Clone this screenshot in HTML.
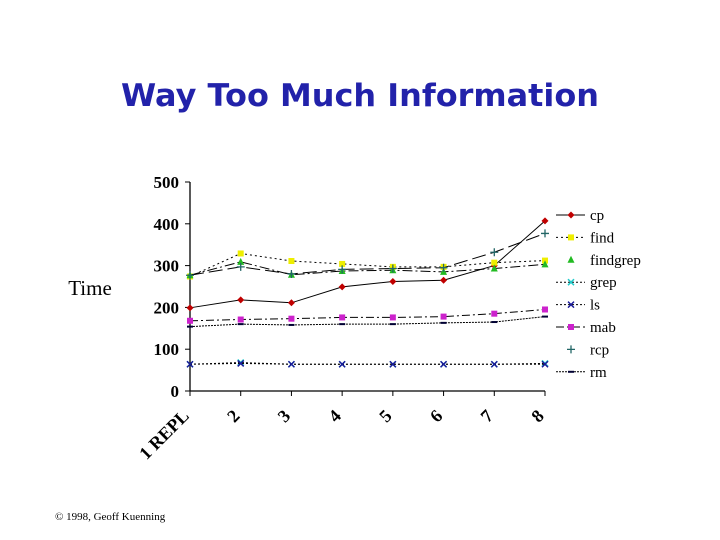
<!DOCTYPE html>
<html><head><meta charset="utf-8"><style>
body{margin:0;background:#fff;width:720px;height:540px;overflow:hidden}
svg{display:block}
text{font-family:"Liberation Serif",serif}
</style></head><body>
<svg id="chart" width="720" height="540">
<text x="360" y="106" text-anchor="middle" font-size="31" font-weight="bold" fill="#2222aa" style="font-family:'DejaVu Sans',sans-serif" textLength="478" lengthAdjust="spacingAndGlyphs">Way Too Much Information</text>
<text x="90" y="295" text-anchor="middle" font-size="21">Time</text>
<text x="55" y="520" font-size="11">© 1998, Geoff Kuenning</text>
<g id="axes"></g><g id="series"></g><g id="legend"></g>
</svg>
<script>
const categories=["1 REPL","2","3","4","5","6","7","8"];
const yTicks=[0,100,200,300,400,500];
const seriesNames=["cp","find","findgrep","grep","ls","mab","rcp","rm"];
const cp=[199,218,211,249,262,265,300,407];
const find=[274,329,311,304,297,297,307,312];
const findgrep=[277,309,278,287,289,285,293,303];
const grep=[64,68,64,64,64,64,64,66];
const ls=[64,66,64,64,64,64,64,64];
const mab=[168,171,173,176,176,178,185,195];
const rcp=[277,297,280,291,293,295,332,377];
const rm=[154,160,158,160,160,163,165,178];
const NS="http://www.w3.org/2000/svg";
const x0=190,x1=545,yb=391,yt=182;
const xs=i=>x0+i*(x1-x0)/(categories.length-1);
const ys=v=>yb-(v/500)*(yb-yt);
function mk(t,a,p){const e=document.createElementNS(NS,t);for(const k in a)e.setAttribute(k,a[k]);p.appendChild(e);return e;}
const axes=document.getElementById('axes');
let l=mk('line',{x1:x0,y1:yt,x2:x0,y2:yb,stroke:'#000','stroke-width':1.3},axes);


l=mk('line',{x1:x0,y1:yb,x2:x1,y2:yb,stroke:'#000','stroke-width':1.3},axes);


yTicks.forEach(v=>{mk('line',{x1:x0-5,y1:ys(v),x2:x0,y2:ys(v),stroke:'#000'},axes);
 const t=mk('text',{x:x0-11,y:ys(v)+6,'text-anchor':'end','font-size':17,'font-weight':'bold'},axes);t.textContent=v;
 
 });
categories.forEach((c,i)=>{const x=xs(i);mk('line',{x1:x,y1:yb,x2:x,y2:yb+5,stroke:'#000'},axes);
 const t=mk('text',{x:x,y:yb+26,'text-anchor':'end','font-size':18,'font-weight':'bold',transform:`rotate(-45 ${x} ${yb+26})`},axes);t.textContent=c;
 
 });
const data=[cp,find,findgrep,grep,ls,mab,rcp,rm];
const colors=["#c00000","#eeee00","#22bb22","#22cccc","#1a1a99","#cc22cc","#226666","#000033"];
const dashes=["none","2,3","10,3,2,3","2,2","2,2","8,3,2,3","14,5","2,1"];
const markers=["diamond","square","triangle","x","x","square","plus","dash"];
function marker(type,x,y,c,g){
 if(type==="diamond")mk('path',{d:`M${x} ${y-3.5}L${x+3.5} ${y}L${x} ${y+3.5}L${x-3.5} ${y}Z`,fill:c},g);
 else if(type==="square")mk('rect',{x:x-3,y:y-3,width:6,height:6,fill:c},g);
 else if(type==="triangle")mk('path',{d:`M${x} ${y-4}L${x+3.5} ${y+3}L${x-3.5} ${y+3}Z`,fill:c},g);
 else if(type==="x")mk('path',{d:`M${x-3} ${y-3}L${x+3} ${y+3}M${x+3} ${y-3}L${x-3} ${y+3}`,stroke:c,'stroke-width':1.5},g);
 else if(type==="plus")mk('path',{d:`M${x-4} ${y}L${x+4} ${y}M${x} ${y-4}L${x} ${y+4}`,stroke:c,'stroke-width':1.3},g);
 else mk('path',{d:`M${x-3} ${y}L${x+3} ${y}`,stroke:c,'stroke-width':2},g);
}
const sg=document.getElementById('series');
data.forEach((arr,s)=>{const g=mk('g',{},sg);
 
 
 mk('polyline',{points:arr.map((v,i)=>xs(i)+','+ys(v)).join(' '),fill:'none',stroke:'#000','stroke-width':1,'stroke-dasharray':dashes[s]},g);
 arr.forEach((v,i)=>marker(markers[s],xs(i),ys(v),colors[s],g));});
const lg=document.getElementById('legend');
seriesNames.forEach((n,s)=>{const y=215+s*22.4;const g=mk('g',{},lg);
 
 
 if(s!==2&&s!==6)mk('line',{x1:556,y1:y,x2:585,y2:y,stroke:'#000','stroke-width':1,'stroke-dasharray':dashes[s]},g);
 marker(markers[s],571,y,colors[s],g);
 const t=mk('text',{x:590,y:y+5,'font-size':15},g);t.textContent=n;});
</script>
</body></html>
